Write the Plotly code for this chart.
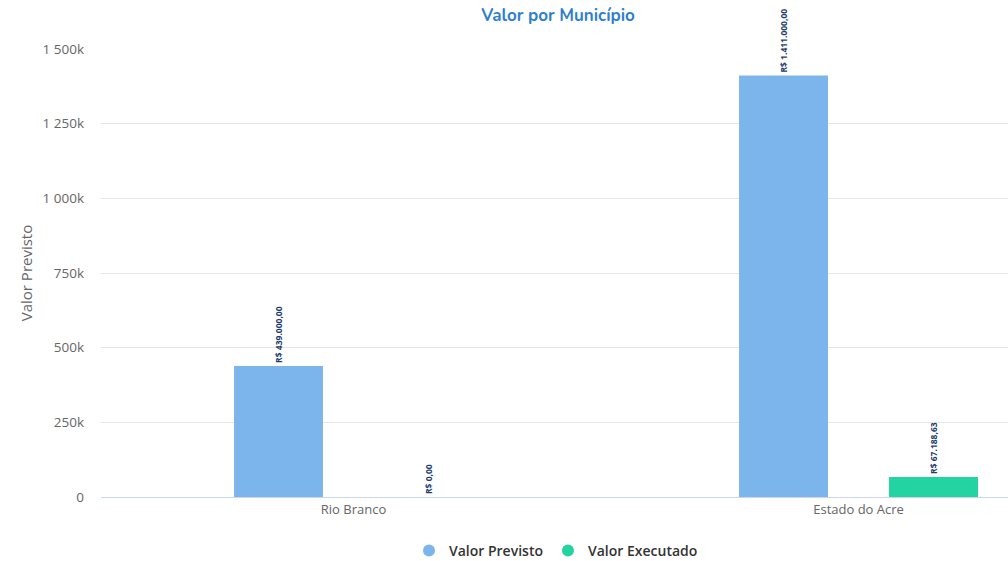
import plotly.graph_objects as go

municipios = ["Rio Branco", "Estado do Acre"]
valor_previsto = [439000, 1411000]
valor_executado = [0, 67188.63]
rotulos_previsto = ["R$ 439.000,00", "R$ 1.411.000,00"]
rotulos_executado = ["R$ 0,00", "R$ 67.188,63"]
y_ticks = [0, 250000, 500000, 750000, 1000000, 1250000, 1500000]
y_ticktext = ["0", "250k", "500k", "750k", "1 000k", "1 250k", "1 500k"]

COR_PREVISTO = "#7cb5ec"
COR_EXECUTADO = "#23d3a2"
COR_ROTULO = "#1d3c6e"

fig = go.Figure()

# barras (legenda feita com marcadores redondos abaixo)
for nome, valores, rotulos, cor in [
    ("Valor Previsto", valor_previsto, rotulos_previsto, COR_PREVISTO),
    ("Valor Executado", valor_executado, rotulos_executado, COR_EXECUTADO),
]:
    fig.add_trace(go.Bar(
        x=municipios, y=valores, name=nome,
        marker=dict(color=cor, line=dict(width=0)),
        text=rotulos, textposition="outside", textangle=-90,
        textfont=dict(size=8.5, color=COR_ROTULO, family="Open Sans", weight="bold"),
        cliponaxis=False, showlegend=False,
    ))
    fig.add_trace(go.Scatter(
        x=[None], y=[None], mode="markers", name=nome,
        marker=dict(symbol="circle", size=11, color=cor),
    ))

fig.update_layout(
    width=1008, height=561,
    margin=dict(l=101, r=0, t=49, b=64, autoexpand=False),
    paper_bgcolor="white", plot_bgcolor="white",
    font=dict(family="Open Sans", color="#666666", size=12),
    barmode="group", bargap=0.406, bargroupgap=0.407,
    title=dict(
        text="<b>Valor por Município</b>", x=558 / 1008, xref="container",
        xanchor="center", y=1 - 15 / 561, yanchor="middle",
        font=dict(family="Nunito, Open Sans", size=17, color="#2e7fd0"),
    ),
    legend=dict(
        orientation="h", xref="container", yref="container",
        x=556 / 1008, xanchor="center", y=10 / 561, yanchor="middle",
        font=dict(size=14, color="#333333", weight=600),
        itemsizing="constant", itemwidth=30,
    ),
)

fig.update_xaxes(
    range=[-0.5, 1.296], showgrid=False,
    showline=True, linecolor="#ccd6eb", linewidth=1,
    ticks="", tickfont=dict(size=13, color="#666666"),
)
fig.update_yaxes(
    range=[0, 1500000], tickvals=y_ticks, ticktext=y_ticktext,
    showgrid=True, gridcolor="#e6e6e6", zeroline=False,
    ticks="", ticklabelstandoff=16,
    tickfont=dict(size=13.5, color="#666666"),
    title=dict(text="Valor Previsto", standoff=6,
               font=dict(size=15, color="#666666")),
)

# sem a margem padrão do body, a figura ocupa a janela toda
fig.write_html(
    "out.html",
    config={"displayModeBar": False},
    post_script="document.body.style.margin = '0';",
)
